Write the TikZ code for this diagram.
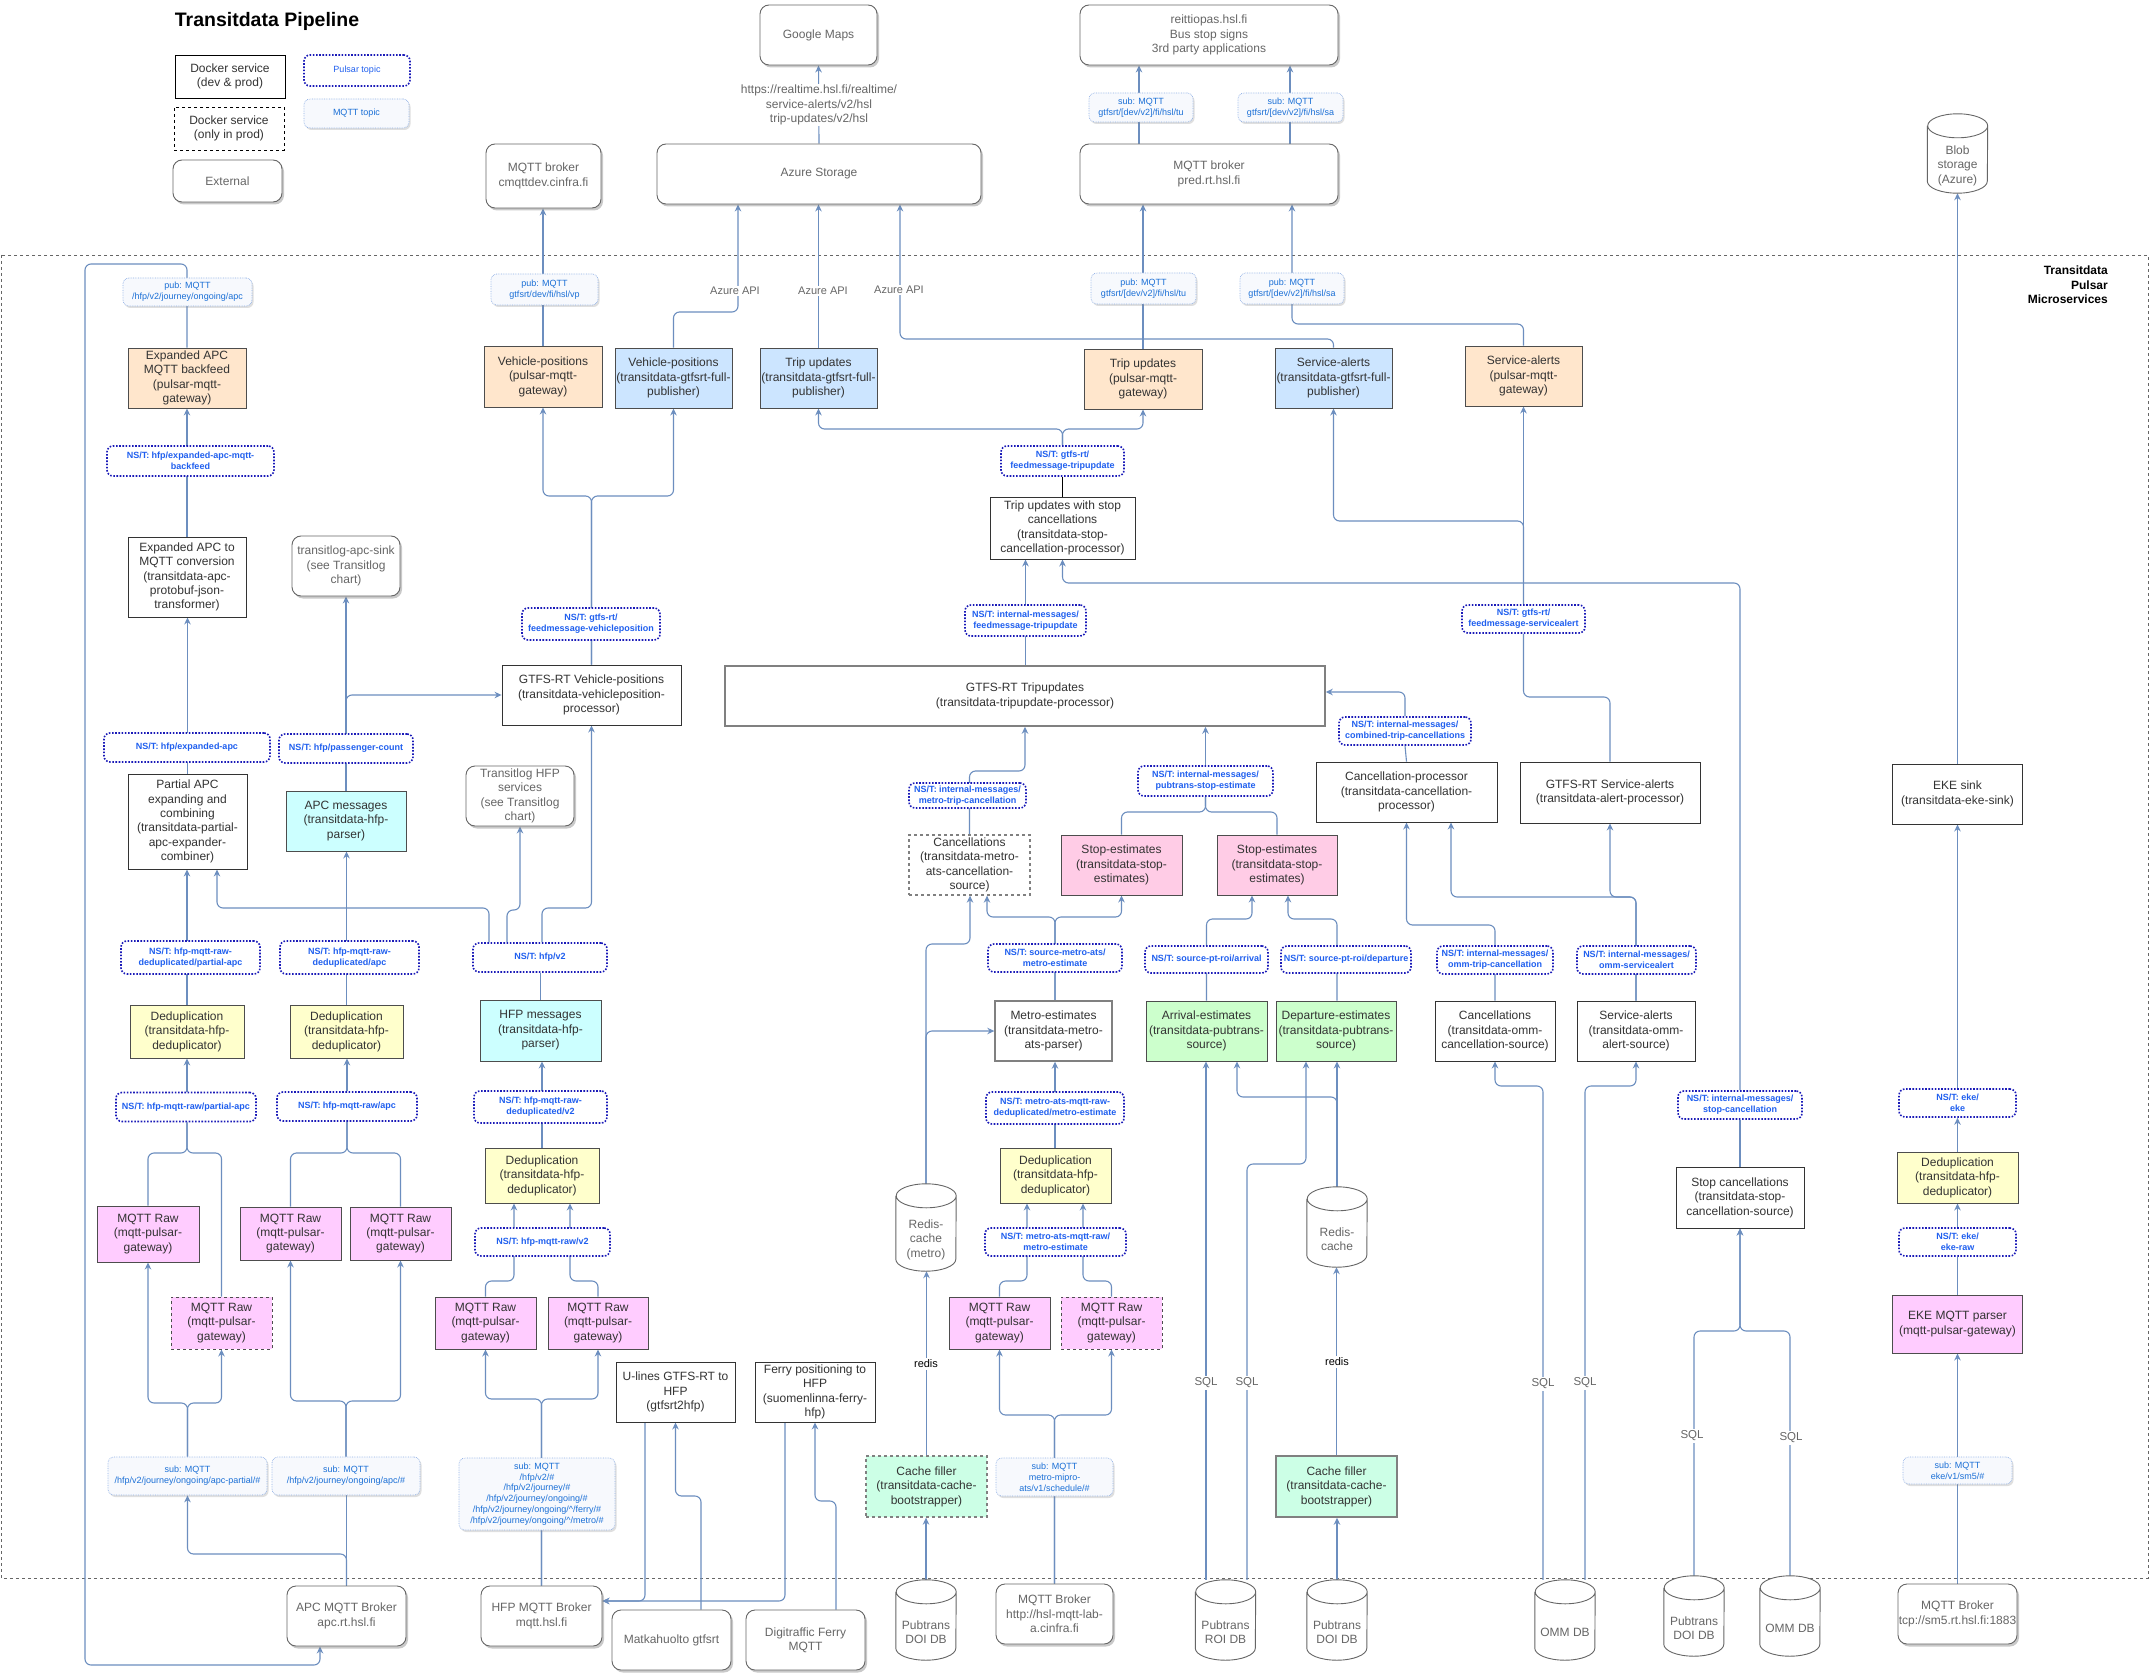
\documentclass[tikz,border=0pt]{standalone}
\usepackage{fontspec}
\setmainfont{Liberation Sans}
\usetikzlibrary{arrows.meta,shadows}
\pgfdeclarelayer{bg}
\pgfsetlayers{bg,main}
\definecolor{edge}{HTML}{6C8EBF}
\definecolor{txt}{HTML}{333333}
\definecolor{exttxt}{HTML}{666666}
\definecolor{bd}{HTML}{4D4D4D}
\definecolor{topicbd}{HTML}{1A1AB8}
\definecolor{topictxt}{HTML}{1F5FEF}
\definecolor{mqttbd}{HTML}{8FB0E6}
\definecolor{mqttfill}{HTML}{F7F9FD}
\definecolor{mqtttxt}{HTML}{1A6FD6}
\definecolor{cOr}{HTML}{FFE6CC}
\definecolor{cBl}{HTML}{CCE5FF}
\definecolor{cCy}{HTML}{CCFFFF}
\definecolor{cYe}{HTML}{FFFFCC}
\definecolor{cPk}{HTML}{FFCCE6}
\definecolor{cMg}{HTML}{FFCCFF}
\definecolor{cGr}{HTML}{CCFFCC}
\definecolor{cMi}{HTML}{CCFFE6}
\newcommand\fsA{\fontsize{12}{14.4}\selectfont}
\newcommand\fsT{\fontsize{9}{10.8}\selectfont}
\tikzset{
 base/.style={inner sep=0pt, align=center, text=txt, font=\fsA},
 svc/.style={base, draw=txt, line width=0.9pt, fill=white},
 col/.style={svc, draw=bd, fill=#1},
 ext/.style={base, draw=exttxt, line width=0.9pt, fill=white, rounded corners=9pt, text=exttxt, drop shadow={shadow xshift=2pt, shadow yshift=-2.5pt, opacity=0.35, fill=black!60}},
 topic/.style={inner sep=0pt, align=center, font=\fsT\bfseries, text=topictxt, draw=topicbd, line width=1.6pt, dash pattern=on 1.6pt off 1.6pt, rounded corners=6pt, fill=white},
 mqtt/.style={inner sep=0pt, align=center, font=\fsT, text=mqtttxt, draw=mqttbd, line width=0.7pt, densely dotted, rounded corners=6pt, fill=mqttfill, drop shadow={shadow xshift=1.5pt, shadow yshift=-2pt, opacity=0.25, fill=black!50}},
 conn/.style={draw=edge, line width=1.1pt, rounded corners=6pt, line join=round, -{Stealth[length=7pt,width=6.5pt]}},
 ln/.style={draw=edge, line width=1.1pt, rounded corners=6pt, line join=round},
 lbl/.style={inner sep=1.5pt, fill=white, font=\fontsize{11}{13.2}\selectfont, text=exttxt},
 cylbox/.style={inner sep=0pt, minimum width=60pt},
 cylline/.style={draw=exttxt, line width=0.9pt, fill=white},
}
\newcommand\bx[7]{\node[#1, minimum width=#5pt, minimum height=#6pt] (#2) at (#3,#4) {#7};}
\newcommand\dbc[5]{%
 \node[cylbox, minimum height=#4pt] (#1) at (#2,#3) {};
 \filldraw[cylline] ([yshift=-12pt]#1.north west) -- ([yshift=12pt]#1.south west) arc[start angle=180,end angle=360,x radius=30pt,y radius=12pt] -- ([yshift=-12pt]#1.north east) arc[start angle=0,end angle=360,x radius=30pt,y radius=12pt];
 \node[base, text=exttxt] at ([yshift=-12pt]#1.center) {#5};
}
\begin{document}
\begin{tikzpicture}[x=1pt,y=-1pt]
\useasboundingbox (0,0) rectangle (2150,1677);
% ---------- title & legend
\node[font=\fontsize{19.5}{23}\selectfont\bfseries, text=black] (title) at (267,21) {Transitdata Pipeline};
\bx{svc, draw=black}{lg1}{230}{76.5}{110}{43}{Docker service\\(dev \& prod)}
\bx{svc, draw=black, dashed}{lg2}{229}{128.5}{110}{43}{Docker service\\(only in prod)}
\bx{ext}{lg3}{227.5}{181}{109}{42}{External}
\bx{topic, font=\fsT}{lg4}{357}{70.5}{106}{31}{Pulsar topic}
\bx{mqtt}{lg5}{356.5}{113.5}{105}{29}{MQTT topic}
\node[anchor=east, align=right, inner sep=0pt, font=\fontsize{12}{14.4}\selectfont\bfseries, text=black] (cont) at (2108,285) {Transitdata\\Pulsar\\Microservices};
% ---------- top externals
\bx{ext}{gmaps}{818.5}{35}{117}{60}{Google Maps}
\bx{ext}{azure}{819}{174}{324}{60}{Azure Storage}
\bx{ext}{cmq}{543.5}{176}{115}{64}{MQTT broker\\cmqttdev.cinfra.fi}
\bx{ext}{reit}{1209}{35}{258}{60}{reittiopas.hsl.fi\\Bus stop signs\\3rd party applications}
\bx{ext}{pred}{1209}{174}{258}{60}{MQTT broker\\pred.rt.hsl.fi}
\dbc{blob}{1957.5}{153.5}{79}{Blob\\storage\\(Azure)}
\node[lbl, font=\fsA, align=center, inner sep=1pt] (url) at (819,105) {https://realtime.hsl.fi/realtime/\\service-alerts/v2/hsl\\trip-updates/v2/hsl};
\bx{mqtt}{subtu}{1141}{107.5}{104}{29}{sub: MQTT\\gtfsrt/[dev/v2]/fi/hsl/tu}
\bx{mqtt}{subsa}{1290.5}{107.5}{105}{29}{sub: MQTT\\gtfsrt/[dev/v2]/fi/hsl/sa}
\bx{mqtt}{pubtu}{1143.5}{288.5}{105}{31}{pub: MQTT\\gtfsrt/[dev/v2]/fi/hsl/tu}
\bx{mqtt}{pubsa}{1292}{288.5}{104}{31}{pub: MQTT\\gtfsrt/[dev/v2]/fi/hsl/sa}
\bx{mqtt}{pubvp}{544.5}{289.5}{107}{31}{pub: MQTT\\gtfsrt/dev/fi/hsl/vp}
\bx{mqtt}{pubapc}{187.5}{292}{129}{28}{pub: MQTT\\/hfp/v2/journey/ongoing/apc}
\node[lbl] (az1) at (735,291) {Azure API};
\node[lbl] (az2) at (823,291) {Azure API};
\node[lbl] (az3) at (899,290) {Azure API};
% ---------- publishers row
\bx{col=cOr}{bf}{187}{378}{118}{60}{Expanded APC\\MQTT backfeed\\(pulsar-mqtt-\\gateway)}
\bx{col=cOr}{vpgw}{543}{376.5}{118}{61}{Vehicle-positions\\(pulsar-mqtt-\\gateway)}
\bx{col=cBl}{vpfp}{673.5}{378}{117}{60}{Vehicle-positions\\(transitdata-gtfsrt-full-\\publisher)}
\bx{col=cBl}{tufp}{818.5}{378}{117}{60}{Trip updates\\(transitdata-gtfsrt-full-\\publisher)}
\bx{col=cOr}{tugw}{1143}{379}{118}{60}{Trip updates\\(pulsar-mqtt-\\gateway)}
\bx{col=cBl}{safp}{1333.5}{378}{117}{60}{Service-alerts\\(transitdata-gtfsrt-full-\\publisher)}
\bx{col=cOr}{sagw}{1523.5}{376}{117}{60}{Service-alerts\\(pulsar-mqtt-\\gateway)}
% ---------- middle
\bx{topic}{tbf}{190.5}{461}{167}{30}{NS/T: hfp/expanded-apc-mqtt-\\backfeed}
\bx{topic}{ttu}{1062.5}{461}{123}{30}{NS/T: gtfs-rt/\\feedmessage-tripupdate}
\bx{svc}{tusc}{1062.5}{528}{145}{62}{Trip updates with stop\\cancellations\\(transitdata-stop-\\cancellation-processor)}
\bx{svc}{apcconv}{187}{577}{118}{80}{Expanded APC to\\MQTT conversion\\(transitdata-apc-\\protobuf-json-\\transformer)}
\bx{ext}{apcsink}{346}{566}{108}{60}{transitlog-apc-sink\\(see Transitlog\\chart)}
\bx{topic}{tvp}{591}{624}{138}{32}{NS/T: gtfs-rt/\\feedmessage-vehicleposition}
\bx{svc}{vpproc}{591.5}{695}{179}{60}{GTFS-RT Vehicle-positions\\(transitdata-vehicleposition-\\processor)}
\bx{topic}{titu}{1025.5}{620.5}{121}{31}{NS/T: internal-messages/\\feedmessage-tripupdate}
\bx{svc, draw=gray, line width=1.5pt}{tup}{1025}{696}{600}{60}{GTFS-RT Tripupdates\\(transitdata-tripupdate-processor)}
\bx{topic}{tsa}{1523.5}{619}{123}{28}{NS/T: gtfs-rt/\\feedmessage-servicealert}
\bx{topic}{tcomb}{1405}{731}{132}{28}{NS/T: internal-messages/\\combined-trip-cancellations}
\bx{svc}{cproc}{1406.5}{792}{181}{60}{Cancellation-processor\\(transitdata-cancellation-\\processor)}
\bx{svc}{saproc}{1610}{792.5}{180}{61}{GTFS-RT Service-alerts\\(transitdata-alert-processor)}
\bx{svc}{ekesink}{1957.5}{794}{130}{60}{EKE sink\\(transitdata-eke-sink)}
\bx{topic}{txapc}{187}{747.5}{166}{29}{NS/T: hfp/expanded-apc}
\bx{topic}{tpc}{346}{748.5}{134}{29}{NS/T: hfp/passenger-count}
\bx{svc}{papc}{187.5}{821.5}{119}{95}{Partial APC\\expanding and\\combining\\(transitdata-partial-\\apc-expander-\\combiner)}
\bx{col=cCy}{apcmsg}{346}{821}{120}{60}{APC messages\\(transitdata-hfp-\\parser)}
\bx{ext}{hfpsvc}{520}{796}{108}{60}{Transitlog HFP\\services\\(see Transitlog\\chart)}
\bx{topic}{tmcan}{967.5}{795.5}{117}{25}{NS/T: internal-messages/\\metro-trip-cancellation}
\bx{topic}{tpse}{1205.5}{781}{135}{30}{NS/T: internal-messages/\\pubtrans-stop-estimate}
\bx{svc, draw=gray, dashed, line width=1.3pt}{mcan}{969.5}{865}{121}{60}{Cancellations\\(transitdata-metro-\\ats-cancellation-\\source)}
\bx{col=cPk}{se1}{1121.5}{865}{121}{60}{Stop-estimates\\(transitdata-stop-\\estimates)}
\bx{col=cPk}{se2}{1277}{865}{120}{60}{Stop-estimates\\(transitdata-stop-\\estimates)}
% ---------- topics row ~958
\bx{topic}{tdpa}{190.5}{957.5}{139}{33}{NS/T: hfp-mqtt-raw-\\deduplicated/partial-apc}
\bx{topic}{tdapc}{349.5}{957.5}{139}{33}{NS/T: hfp-mqtt-raw-\\deduplicated/apc}
\bx{topic}{tv2}{540}{957.5}{134}{29}{NS/T: hfp/v2}
\bx{topic}{tsma}{1055}{958}{134}{28}{NS/T: source-metro-ats/\\metro-estimate}
\bx{topic}{tarr}{1206.5}{959.5}{123}{27}{NS/T: source-pt-roi/arrival}
\bx{topic}{tdep}{1346}{959.5}{130}{27}{NS/T: source-pt-roi/departure}
\bx{topic}{tomc}{1495}{960}{116}{28}{NS/T: internal-messages/\\omm-trip-cancellation}
\bx{topic}{toms}{1636.5}{960}{119}{28}{NS/T: internal-messages/\\omm-servicealert}
% ---------- boxes row ~1031
\bx{col=cYe}{dedpa}{187}{1031.5}{114}{53}{Deduplication\\(transitdata-hfp-\\deduplicator)}
\bx{col=cYe}{dedapc}{346.5}{1031.5}{113}{53}{Deduplication\\(transitdata-hfp-\\deduplicator)}
\bx{col=cCy}{hfpmsg}{540.5}{1030.5}{121}{61}{HFP messages\\(transitdata-hfp-\\parser)}
\bx{svc, draw=gray, line width=1.4pt}{mest}{1053.5}{1031}{117}{60}{Metro-estimates\\(transitdata-metro-\\ats-parser)}
\bx{col=cGr}{arr}{1206.5}{1031}{121}{60}{Arrival-estimates\\(transitdata-pubtrans-\\source)}
\bx{col=cGr}{dep}{1336}{1031}{120}{60}{Departure-estimates\\(transitdata-pubtrans-\\source)}
\bx{svc}{omc}{1495}{1031}{120}{60}{Cancellations\\(transitdata-omm-\\cancellation-source)}
\bx{svc}{oms}{1636}{1031}{118}{60}{Service-alerts\\(transitdata-omm-\\alert-source)}
% ---------- topics row ~1107
\bx{topic}{trpa}{186}{1107}{140}{29}{NS/T: hfp-mqtt-raw/partial-apc}
\bx{topic}{trapc}{347}{1106.5}{140}{29}{NS/T: hfp-mqtt-raw/apc}
\bx{topic}{tdv2}{540.5}{1107}{133}{32}{NS/T: hfp-mqtt-raw-\\deduplicated/v2}
\bx{topic}{tdme}{1055}{1108}{138}{32}{NS/T: metro-ats-mqtt-raw-\\deduplicated/metro-estimate}
\bx{topic}{tstc}{1740}{1105}{124}{28}{NS/T: internal-messages/\\stop-cancellation}
\bx{topic}{teke}{1957.5}{1103}{117}{28}{NS/T: eke/\\eke}
% ---------- row ~1176-1234
\bx{col=cMg}{rawpa1}{148}{1234}{102}{56}{MQTT Raw\\(mqtt-pulsar-\\gateway)}
\bx{col=cMg}{rawapc1}{290.5}{1233.5}{101}{53}{MQTT Raw\\(mqtt-pulsar-\\gateway)}
\bx{col=cMg}{rawapc2}{400.5}{1233.5}{101}{53}{MQTT Raw\\(mqtt-pulsar-\\gateway)}
\bx{col=cYe}{dedv2}{542}{1175.5}{114}{55}{Deduplication\\(transitdata-hfp-\\deduplicator)}
\bx{col=cYe}{dedme}{1055.5}{1175.5}{111}{55}{Deduplication\\(transitdata-hfp-\\deduplicator)}
\bx{svc}{stcan}{1740}{1197.5}{128}{61}{Stop cancellations\\(transitdata-stop-\\cancellation-source)}
\bx{col=cYe}{dedeke}{1957.5}{1177.5}{121}{51}{Deduplication\\(transitdata-hfp-\\deduplicator)}
\dbc{rm}{926}{1227.5}{87}{Redis-\\cache\\(metro)}
\dbc{rtwo}{1337}{1227}{80}{Redis-\\cache}
\bx{topic}{trv2}{542.5}{1242}{135}{28}{NS/T: hfp-mqtt-raw/v2}
\bx{topic}{trme}{1055.5}{1242}{141}{28}{NS/T: metro-ats-mqtt-raw/\\metro-estimate}
\bx{topic}{tekeraw}{1957.5}{1242}{117}{28}{NS/T: eke/\\eke-raw}
% ---------- row ~1323
\bx{col=cMg, dashed}{rawpa2}{221.5}{1323}{101}{52}{MQTT Raw\\(mqtt-pulsar-\\gateway)}
\bx{col=cMg}{rawvone}{485.5}{1323}{101}{52}{MQTT Raw\\(mqtt-pulsar-\\gateway)}
\bx{col=cMg}{rawvtwo}{598}{1323}{100}{52}{MQTT Raw\\(mqtt-pulsar-\\gateway)}
\bx{col=cMg}{rawme1}{999.5}{1323}{101}{52}{MQTT Raw\\(mqtt-pulsar-\\gateway)}
\bx{col=cMg, dashed}{rawme2}{1111.5}{1323}{101}{52}{MQTT Raw\\(mqtt-pulsar-\\gateway)}
\bx{col=cMg}{ekepar}{1957.5}{1324}{130}{58}{EKE MQTT parser\\(mqtt-pulsar-gateway)}
\bx{svc}{ulines}{675.5}{1392}{119}{60}{U-lines GTFS-RT to\\HFP\\(gtfsrt2hfp)}
\bx{svc}{ferry}{815}{1392}{120}{60}{Ferry positioning to\\HFP\\(suomenlinna-ferry-\\hfp)}
% ---------- sub labels & fillers
\bx{mqtt}{subpa}{187.5}{1476}{159}{38}{sub: MQTT\\/hfp/v2/journey/ongoing/apc-partial/\#}
\bx{mqtt}{subapc}{346}{1476}{148}{38}{sub: MQTT\\/hfp/v2/journey/ongoing/apc/\#}
\bx{mqtt}{subhfp}{537}{1494}{156}{72}{sub: MQTT\\/hfp/v2/\#\\/hfp/v2/journey/\#\\/hfp/v2/journey/ongoing/\#\\/hfp/v2/journey/ongoing/\textasciicircum/ferry/\#\\/hfp/v2/journey/ongoing/\textasciicircum/metro/\#}
\bx{svc, draw=gray, dashed, line width=1.3pt, fill=cMi}{cacheone}{926.5}{1486.5}{121}{61}{Cache filler\\(transitdata-cache-\\bootstrapper)}
\bx{mqtt}{subme}{1054.5}{1477}{117}{38}{sub: MQTT\\metro-mipro-\\ats/v1/schedule/\#}
\bx{svc, draw=gray, line width=1.5pt, fill=cMi}{cachetwo}{1336.5}{1486.5}{121}{61}{Cache filler\\(transitdata-cache-\\bootstrapper)}
\bx{mqtt}{subeke}{1957.5}{1470.5}{109}{27}{sub: MQTT\\eke/v1/sm5/\#}
% ---------- bottom externals
\bx{ext}{apcbroker}{346.5}{1616}{119}{60}{APC MQTT Broker\\apc.rt.hsl.fi}
\bx{ext}{hfpbroker}{541.5}{1616}{121}{60}{HFP MQTT Broker\\mqtt.hsl.fi}
\bx{ext}{matka}{671.5}{1640}{119}{60}{Matkahuolto gtfsrt}
\bx{ext}{digi}{805.5}{1640}{119}{60}{Digitraffic Ferry\\MQTT}
\dbc{doione}{926}{1620}{80}{Pubtrans\\DOI DB}
\bx{ext}{mlab}{1054.5}{1614}{117}{60}{MQTT Broker\\http://hsl-mqtt-lab-\\a.cinfra.fi}
\dbc{roi}{1225.5}{1620}{80}{Pubtrans\\ROI DB}
\dbc{doitwo}{1337}{1620}{80}{Pubtrans\\DOI DB}
\dbc{ommone}{1565}{1620}{80}{OMM DB}
\dbc{doithree}{1694}{1616}{80}{Pubtrans\\DOI DB}
\dbc{ommtwo}{1790}{1616}{80}{OMM DB}
\bx{ext}{sm5}{1957.5}{1614}{119}{60}{MQTT Broker\\tcp://sm5.rt.hsl.fi:1883}
% ---------- edge labels
\node[lbl, font=\fontsize{11.5}{13}\selectfont] (sq1) at (1206,1383) {SQL};
\node[lbl, font=\fontsize{11.5}{13}\selectfont] (sq2) at (1247,1383) {SQL};
\node[lbl, font=\fontsize{11.5}{13}\selectfont] (sq3) at (1543,1384) {SQL};
\node[lbl, font=\fontsize{11.5}{13}\selectfont] (sq4) at (1585,1383) {SQL};
\node[lbl, font=\fontsize{11.5}{13}\selectfont] (sq5) at (1692,1436) {SQL};
\node[lbl, font=\fontsize{11.5}{13}\selectfont] (sq6) at (1791,1438) {SQL};
\node[lbl, text=black] (rd1) at (926,1364) {redis};
\node[lbl, text=black] (rd2) at (1337,1362) {redis};
% ---------- connectors
\begin{pgfonlayer}{bg}
\fill[white] (0,0) rectangle (2150,1677);
\draw[draw=exttxt, line width=0.8pt, dash pattern=on 3pt off 3pt] (1,255) rectangle (2148,1578);
% top
\draw[conn] (azure.north) -- (gmaps.south);
\draw[conn] (vpfp.north) -- (673.5,312) -- (738,312) -- (738,0 |- azure.south);
\draw[conn] (tufp.north) -- (tufp.north |- azure.south);
\draw[conn] (safp.north) -- (1333.5,339) -- (900,339) -- (900,0 |- azure.south);
\draw[conn] (vpgw.north) -- (vpgw.north |- cmq.south);
\draw[conn] (tugw.north) -- (tugw.north |- pred.south);
\draw[conn] (sagw.north) -- (1523.5,324) -- (1292,324) -- (1292,0 |- pred.south);
\draw[conn] (1139,0 |- pred.north) -- (1139,0 |- reit.south);
\draw[conn] (1290,0 |- pred.north) -- (1290,0 |- reit.south);
% backfeed loop
\draw[conn] (bf.north) -- (187,264) -- (85,264) -- (85,1665) -- (320,1665) -- (320,0 |- apcbroker.south);
\draw[conn] (apcconv.north) -- (bf.south);
% vehicle positions
\draw[conn] (vpproc.north) -- (591.5,496) -- (543,496) -- (vpgw.south);
\draw[conn] (vpproc.north) -- (591.5,496) -- (673.5,496) -- (vpfp.south);
% trip updates
\draw[conn] (ttu.north) -- (1062.5,429) -- (818.5,429) -- (tufp.south);
\draw[conn] (ttu.north) -- (1062.5,429) -- (1143,429) -- (tugw.south);
\draw[line width=1.1pt, draw=black] (tusc.north) -- (ttu.south);
\draw[conn] (1025.5,0 |- tup.north) -- (1025.5,0 |- tusc.south);
\draw[conn] (tstc.north) -- (1740,583) -- (1062.5,583) -- (tusc.south);
\draw[ln] (stcan.north) -- (tstc.south);
\draw[conn] (mcan.north) -- (969.5,771) -- (1025,771) -- (1025,0 |- tup.south);
\draw[ln] (se1.north) -- (1121.5,812) -- (1205.5,812) -- (tpse.south);
\draw[ln] (se2.north) -- (1277,812) -- (1205.5,812) -- (tpse.south);
\draw[conn] (tpse.north) -- (tpse.north |- tup.south);
\draw[ln] (cproc.north) -- (tcomb.south);
\draw[conn] (tcomb.north) -- (1405,692) -- (tup.east |- 0,692);
% service alerts
\draw[ln] (saproc.north) -- (1610,697) -- (1523.5,697) -- (tsa.south);
\draw[conn] (tsa.north) -- (1523.5,521) -- (1333.5,521) -- (safp.south);
\draw[conn] (tsa.north) -- (sagw.south);
\draw[conn] (omc.north) -- (1495,925) -- (1406.5,925) -- (cproc.south);
\draw[conn] (oms.north) -- (1636,897) -- (1451,897) -- (1451,0 |- cproc.south);
\draw[conn] (oms.north) -- (1636,897) -- (1610,897) -- (saproc.south);
\draw[conn] (1543,0 |- ommone.north) -- (1543,1086) -- (1495,1086) -- (omc.south);
\draw[conn] (1585,0 |- ommone.north) -- (1585,1086) -- (1636,1086) -- (oms.south);
\draw[conn] (doithree.north) -- (1694,1331) -- (1740,1331) -- (stcan.south);
\draw[conn] (ommtwo.north) -- (1790,1331) -- (1740,1331) -- (stcan.south);
% eke
\draw[conn] (ekesink.north) -- (ekesink.north |- blob.south);
\draw[conn] (teke.north) -- (teke.north |- ekesink.south);
\draw[conn] (dedeke.north) -- (dedeke.north |- teke.south);
\draw[conn] (tekeraw.north) -- (tekeraw.north |- dedeke.south);
\draw[ln] (ekepar.north) -- (ekepar.north |- tekeraw.south);
\draw[conn] (sm5.north) -- (sm5.north |- ekepar.south);
% apc column
\draw[conn] (papc.north) -- (papc.north |- apcconv.south);
\draw[conn] (apcmsg.north) -- (apcmsg.north |- apcsink.south);
\draw[conn] (apcmsg.north) -- (346,695) -- (vpproc.west);
\draw[conn] (dedpa.north) -- (dedpa.north |- papc.south);
\draw[conn] (dedapc.north) -- (dedapc.north |- apcmsg.south);
\draw[ln] (hfpmsg.north) -- (hfpmsg.north |- tv2.south);
\draw[conn] (489,0 |- tv2.north) -- (489,908) -- (217,908) -- (217,0 |- papc.south);
\draw[conn] (507,0 |- tv2.north) -- (507,910) -- (520,910) -- (hfpsvc.south);
\draw[conn] (542,0 |- tv2.north) -- (542,908) -- (591.5,908) -- (vpproc.south);
\draw[conn] (dedv2.north) -- (dedv2.north |- hfpmsg.south);
\draw[ln] (rawpa1.north) -- (148,1153) -- (187,1153) -- (187,0 |- trpa.south);
\draw[ln] (rawpa2.north) -- (221.5,1153) -- (187,1153) -- (187,0 |- trpa.south);
\draw[conn] (187,0 |- trpa.north) -- (187,0 |- dedpa.south);
\draw[ln] (rawapc1.north) -- (290.5,1153) -- (347,1153) -- (347,0 |- trapc.south);
\draw[ln] (rawapc2.north) -- (400.5,1153) -- (347,1153) -- (347,0 |- trapc.south);
\draw[conn] (347,0 |- trapc.north) -- (347,0 |- dedapc.south);
\draw[conn] (subpa.north) -- (187.5,1403) -- (148,1403) -- (rawpa1.south);
\draw[conn] (subpa.north) -- (187.5,1403) -- (221.5,1403) -- (rawpa2.south);
\draw[conn] (subapc.north) -- (346,1401) -- (290.5,1401) -- (rawapc1.south);
\draw[conn] (subapc.north) -- (346,1401) -- (400.5,1401) -- (rawapc2.south);
\draw[ln] (apcbroker.north) -- (apcbroker.north |- subapc.south);
\draw[conn] (apcbroker.north) -- (346.5,1554) -- (187.5,1554) -- (subpa.south);
% hfp v2
\draw[conn] (rawvone.north) -- (485.5,1281) -- (514,1281) -- (514,0 |- dedv2.south);
\draw[conn] (rawvtwo.north) -- (598,1281) -- (570,1281) -- (570,0 |- dedv2.south);
\draw[conn] (hfpbroker.north) -- (541.5,1399) -- (485.5,1399) -- (rawvone.south);
\draw[conn] (hfpbroker.north) -- (541.5,1399) -- (598,1399) -- (rawvtwo.south);
\draw[conn] (645,0 |- ulines.south) -- (645,1601) -- (hfpbroker.east |- 0,1601);
\draw[conn] (785,0 |- ferry.south) -- (785,1601) -- (hfpbroker.east |- 0,1601);
\draw[conn] (701,0 |- matka.north) -- (701,1496) -- (675.5,1496) -- (ulines.south);
\draw[conn] (836,0 |- digi.north) -- (836,1501) -- (815,1501) -- (ferry.south);
% metro
\draw[conn] (rawme1.north) -- (999.5,1281) -- (1027,1281) -- (1027,0 |- dedme.south);
\draw[conn] (rawme2.north) -- (1111.5,1281) -- (1083,1281) -- (1083,0 |- dedme.south);
\draw[conn] (1055,0 |- dedme.north) -- (1055,0 |- mest.south);
\draw[conn] (1055,0 |- mest.north) -- (1055,917) -- (987,917) -- (987,0 |- mcan.south);
\draw[conn] (1055,0 |- mest.north) -- (1055,917) -- (1121.5,917) -- (se1.south);
\draw[conn] (rm.north) -- (926,944) -- (970,944) -- (970,0 |- mcan.south);
\draw[conn] (rm.north) -- (926,1031) -- (mest.west);
\draw[conn] (cacheone.north) -- (cacheone.north |- rm.south);
\draw[conn] (doione.north) -- (doione.north |- cacheone.south);
\draw[conn] (mlab.north) -- (1054.5,1415) -- (999.5,1415) -- (rawme1.south);
\draw[conn] (mlab.north) -- (1054.5,1415) -- (1111.5,1415) -- (rawme2.south);
% pubtrans
\draw[conn] (arr.north) -- (1206.5,919) -- (1252,919) -- (1252,0 |- se2.south);
\draw[conn] (1337,0 |- dep.north) -- (1337,919) -- (1288,919) -- (1288,0 |- se2.south);
\draw[conn] (1206,0 |- roi.north) -- (1206,0 |- arr.south);
\draw[conn] (1247,0 |- roi.north) -- (1247,1164) -- (1306,1164) -- (1306,0 |- dep.south);
\draw[conn] (rtwo.north) -- (rtwo.north |- dep.south);
\draw[conn] (rtwo.north) -- (1337,1097) -- (1237,1097) -- (1237,0 |- arr.south);
\draw[conn] (cachetwo.north) -- (cachetwo.north |- rtwo.south);
\draw[conn] (doitwo.north) -- (doitwo.north |- cachetwo.south);
\end{pgfonlayer}
\end{tikzpicture}
\end{document}
